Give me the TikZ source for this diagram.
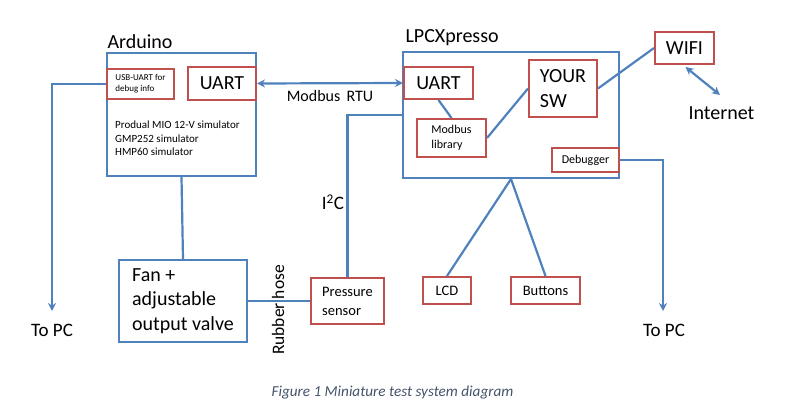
\documentclass[tikz,border=0pt]{standalone}
\usepackage{fontspec}
\setmainfont{Carlito}
\usetikzlibrary{arrows.meta}
\definecolor{linkblue}{RGB}{79,129,189}
\definecolor{boxred}{RGB}{192,80,77}
\definecolor{captgray}{RGB}{68,84,106}
\newcommand{\fsz}[2]{\fontsize{#1}{#2}\selectfont}
\tikzset{
  >={Stealth[length=8pt,width=8pt]},
  bluebox/.style={draw=linkblue,line width=2pt,inner sep=0pt,align=left},
  redbox/.style={draw=boxred,line width=2pt,inner sep=0pt,align=left},
  conn/.style={draw=linkblue,line width=2.2pt}
}

\begin{document}
\begin{tikzpicture}[x=1pt,y=-1pt]
  \useasboundingbox (0,0) rectangle (787,417);

  % Arduino side
  \node[anchor=west,font=\fsz{20}{24}] (ardLbl) at (104,42) {Arduino};
  \node[bluebox,minimum width=149,minimum height=123] (ard) at (181.5,114.5) {};
  \node[redbox,minimum width=67,minimum height=30,font=\fsz{9}{11}] (usb) at (140.5,84) {USB-UART for\\debug info};
  \node[redbox,minimum width=68,minimum height=33,font=\fsz{20}{24}] (uartA) at (222,83.5) {UART};
  \node[anchor=north west,align=left,inner sep=0pt,font=\fsz{11}{13.5}] (sims) at (115,121) {Produal MIO 12-V simulator\\GMP252 simulator\\HMP60 simulator};
  \node[bluebox,minimum width=128,minimum height=82,font=\fsz{20}{24.5}] (fan) at (183,301) {Fan +\\adjustable\\output valve\hspace{4pt}};
  \node[redbox,minimum width=73,minimum height=46,font=\fsz{14.5}{19}] (press) at (347.5,301) {Pressure\\sensor};
  \node[rotate=90,font=\fsz{17.5}{20}] (hose) at (278,310) {Rubber hose};
  \node[font=\fsz{19}{22}] (pcLbl) at (52,330) {To PC};
  \coordinate (pcL) at (52,311);

  % LPCXpresso side
  \node[anchor=west,font=\fsz{20}{24}] (lpcLbl) at (402,38) {LPCXpresso};
  \node[bluebox,minimum width=216,minimum height=126] (lpc) at (511,115) {};
  \node[redbox,minimum width=69,minimum height=32,font=\fsz{20}{24}] (uartL) at (438.5,83) {UART};
  \node[redbox,minimum width=68,minimum height=57,font=\fsz{20}{25}] (sw) at (563,88.5) {YOUR\\SW};
  \node[redbox,minimum width=69,minimum height=38,font=\fsz{12}{15}] (lib) at (451.5,138) {Modbus\\library};
  \node[redbox,minimum width=67,minimum height=24,font=\fsz{12}{14}] (dbg) at (585.5,160) {Debugger};
  \node[redbox,minimum width=59,minimum height=32,font=\fsz{20}{24}] (wifi) at (684.5,48) {WIFI};
  \node[font=\fsz{20}{24}] (inet) at (721.5,113) {Internet};
  \coordinate (inetTip) at (720,95);
  \node[redbox,minimum width=48,minimum height=27,font=\fsz{14.5}{17}] (lcd) at (447,290.5) {LCD};
  \node[redbox,minimum width=69,minimum height=27,font=\fsz{14.5}{17}] (btn) at (545.5,290.5) {Buttons};
  \node[font=\fsz{19}{22}] (pcRLbl) at (664,330) {To PC};
  \coordinate (pcR) at (663,311);

  % connectors
  \draw[conn,<->] (uartA.east) -- (uartL.west) node[midway,below=3pt,black,font=\fsz{16}{19}] (rtu) {Modbus\, RTU};
  \draw[conn,->] (usb.west) -| (pcL);
  \draw[conn] (ard.south) -- (fan.north);
  \draw[conn] (fan.east) -- (press.west);
  \draw[conn] (press.north) |- (lpc.west);
  \node[font=\fsz{19}{22}] (i2c) at (333,202) {I\textsuperscript{2}C};
  \draw[conn] (uartL.south) -- (lib.north);
  \draw[conn] (lib.east) -- (sw.west);
  \draw[conn] (sw.east) -- (wifi.west);
  \draw[conn,<->] (wifi.south) ++(1,2) -- (inetTip);
  \draw[conn,->] (dbg.east) -| (pcR);
  \draw[conn] (lpc.south) -- (lcd.north);
  \draw[conn] (lpc.south) -- (btn.north);

  \node[font=\fsz{15.2}{18}\itshape,text=captgray] (capt) at (392.5,393) {Figure 1 Miniature test system diagram};
\end{tikzpicture}
\end{document}
